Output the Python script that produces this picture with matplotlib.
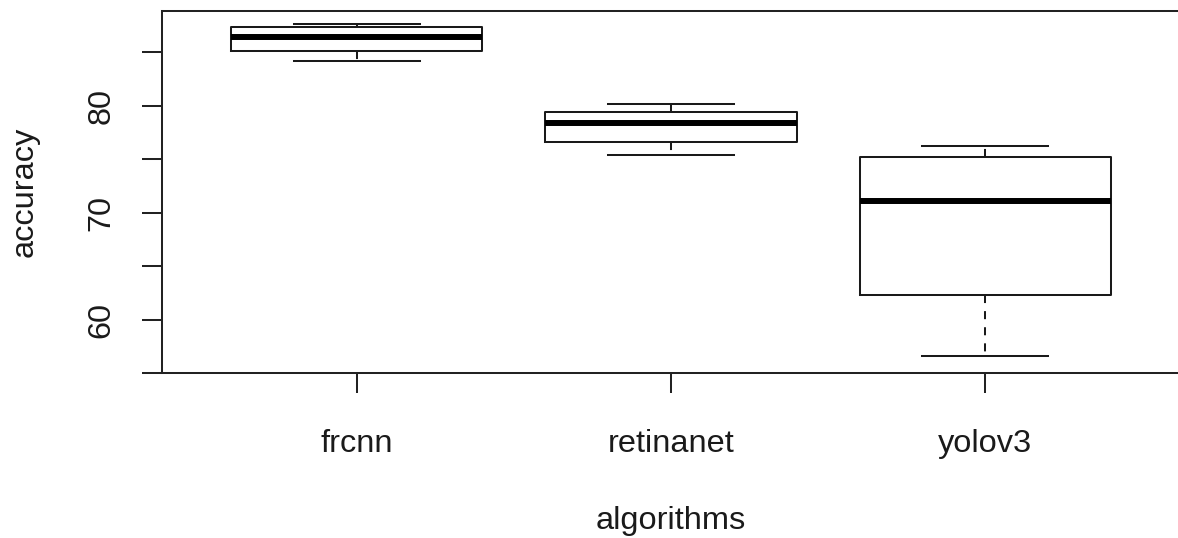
import matplotlib
matplotlib.use("Agg")
import matplotlib.pyplot as plt

# Five-number summaries of detection accuracy per algorithm
algorithms = ["frcnn", "retinanet", "yolov3"]
whisker_low = [84.2, 75.4, 56.6]
quartile_1 = [85.1, 76.6, 62.3]
median = [86.4, 78.4, 71.1]
quartile_3 = [87.3, 79.4, 75.2]
whisker_high = [87.6, 80.1, 76.2]

y_ticks = [55, 60, 65, 70, 75, 80, 85]
y_tick_labels = ["", "60", "", "70", "", "80", ""]

plt.rcParams["font.family"] = ["Liberation Sans", "DejaVu Sans"]
plt.rcParams["font.size"] = 23.4

W, H = 1178, 538
fig = plt.figure(figsize=(W / 100, H / 100), dpi=100)
left, top, bottom = 162, 11, 373
right = 1180
ax = fig.add_axes([left / W, 1 - bottom / H, (right - left) / W, (bottom - top) / H])

stats = []
for name, lo, q1, med, q3, hi in zip(algorithms, whisker_low, quartile_1,
                                     median, quartile_3, whisker_high):
    stats.append(dict(label=name, whislo=lo, q1=q1, med=med, q3=q3,
                      whishi=hi, fliers=[]))

lw = 1.45
ink = "#1a1a1a"
ax.bxp(stats, positions=[1, 2, 3], widths=0.8, capwidths=0.4,
       showfliers=False,
       boxprops=dict(color=ink, linewidth=lw),
       medianprops=dict(color="black", linewidth=4.3, solid_capstyle="butt"),
       whiskerprops=dict(color=ink, linewidth=lw, linestyle=(0, (4, 4))),
       capprops=dict(color=ink, linewidth=lw))

ax.set_xlim(0.38, 3.62)
ax.set_ylim(55.36, 88.84)

for s in ax.spines.values():
    s.set_linewidth(lw)
    s.set_color("#222222")

ax.set_yticks(y_ticks)
ax.set_yticklabels(y_tick_labels, rotation=90, va="center")
ax.set_xticks([1, 2, 3])
ax.set_xticklabels(algorithms)
ax.tick_params(axis="both", direction="out", length=14.5, width=lw, color="#222222",
               labelcolor="#1a1a1a")
ax.tick_params(axis="y", pad=18)
ax.tick_params(axis="x", pad=26)

fig.text(25 / W, 1 - 192 / H, "accuracy", rotation=90, ha="center", va="center",
         color="#1a1a1a")
fig.text(671 / W, 1 - 521 / H, "algorithms", ha="center", va="center",
         color="#1a1a1a")

fig.savefig("out.png", dpi=100)
